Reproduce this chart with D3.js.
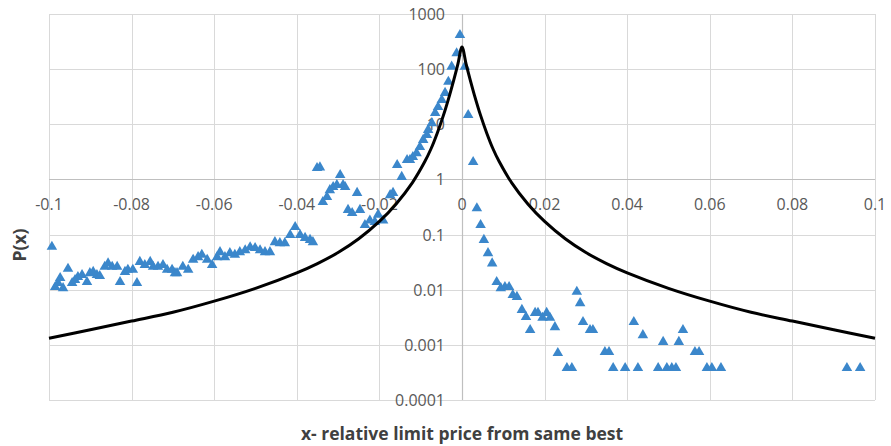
<!DOCTYPE html>
<html><head><meta charset="utf-8">
<script src="https://cdn.jsdelivr.net/npm/d3@7"></script>
<style>html,body{margin:0;padding:0;background:#fff;}svg{display:block;}</style>
</head><body>
<svg id="chart" width="891" height="446"></svg>
<script>
const xTicks = [-0.1,-0.08,-0.06,-0.04,-0.02,0,0.02,0.04,0.06,0.08,0.1];
const xTickLabels = ["-0.1","-0.08","-0.06","-0.04","-0.02","0","0.02","0.04","0.06","0.08","0.1"];
const yTicks = [0.0001,0.001,0.01,0.1,1,10,100,1000];
const yTickLabels = ["0.0001","0.001","0.01","0.1","1","10","100","1000"];
const xTitle = "x- relative limit price from same best";
const yTitle = "P(x)";

// empirical points (x, P(x))
const obsX = [
-0.0993,-0.0985,-0.0978,-0.0973,-0.0966,-0.0954,-0.0944,-0.0937,-0.0930,-0.0920,
-0.0908,-0.0901,-0.0893,-0.0884,-0.0877,-0.0865,-0.0857,-0.0847,-0.0835,-0.0828,
-0.0816,-0.0809,-0.0797,-0.0787,-0.0780,-0.0768,-0.0755,-0.0748,-0.0736,-0.0724,
-0.0714,-0.0702,-0.0695,-0.0690,-0.0676,-0.0663,-0.0651,-0.0639,-0.0630,-0.0617,
-0.0605,-0.0593,-0.0586,-0.0574,-0.0562,-0.0550,-0.0538,-0.0525,-0.0513,-0.0501,
-0.0489,-0.0477,-0.0465,-0.0453,-0.0441,-0.0429,-0.0416,-0.0404,-0.0392,-0.0380,
-0.0368,-0.0361,
-0.0351,-0.0344,-0.0337,-0.0327,-0.0320,-0.0312,-0.0303,-0.0295,-0.0288,-0.0283,
-0.0276,-0.0266,-0.0254,-0.0247,-0.0235,-0.0223,-0.0211,-0.0203,-0.0191,-0.0174,
-0.0167,-0.0157,-0.0146,-0.0133,
-0.0126,-0.0119,-0.0110,-0.0102,-0.0094,-0.0085,-0.0082,-0.0073,-0.0065,-0.0058,
-0.0049,-0.0041,-0.0033,-0.0025,-0.0013,-0.0005,0.0007,0.0015,0.0027,
0.0036,0.0045,0.0053,0.0063,0.0073,0.0084,0.0094,0.0104,0.0114,0.0123,
0.0133,0.0145,0.0155,0.0165,0.0177,0.0184,0.0195,0.0205,0.0213,0.0225,
0.0232,0.0254,0.0266,0.0278,0.0286,0.0293,0.0310,0.0317,0.0346,0.0356,
0.0366,0.0395,0.0416,0.0426,0.0438,0.0475,0.0487,0.0496,0.0508,0.0518,
0.0525,0.0535,0.0564,0.0574,0.0593,0.0605,0.0627,0.0932,0.0964
];
const obsP = [
0.060,0.0112,0.0132,0.0163,0.0107,0.024,0.0132,0.015,0.017,0.0185,
0.0138,0.020,0.021,0.0185,0.0177,0.026,0.030,0.026,0.026,0.0138,
0.021,0.023,0.023,0.0132,0.032,0.028,0.032,0.026,0.026,0.028,
0.023,0.023,0.020,0.020,0.026,0.023,0.035,0.039,0.043,0.035,
0.028,0.039,0.048,0.039,0.046,0.043,0.048,0.052,0.059,0.057,
0.052,0.048,0.048,0.073,0.070,0.070,0.098,0.137,0.098,0.087,
0.080,0.073,
1.61,1.65,0.39,0.48,0.64,0.73,0.79,1.20,0.79,0.73,
0.28,0.246,0.57,0.28,0.149,0.18,0.17,0.23,0.18,0.52,
0.57,1.83,1.11,2.25,
2.25,2.55,3.0,3.87,5.2,6.4,7.9,10.5,16,20.6,
27.5,37,59,111,194,416,111,14.7,2.07,
0.30,0.149,0.080,0.046,0.030,0.0138,0.0107,0.0112,0.0112,0.0080,
0.0074,0.0043,0.0032,0.00186,0.0038,0.0038,0.0031,0.0038,0.0031,0.0021,
0.00071,0.00038,0.00038,0.0092,0.0057,0.0026,0.00186,0.00186,0.00074,0.00074,
0.00038,0.00038,0.0026,0.00038,0.0015,0.00038,0.00113,0.00038,0.00038,0.00038,
0.00113,0.00186,0.00074,0.00074,0.00038,0.00038,0.00038,0.00038,0.00038
];

// fitted curve
const fitX = [-0.1,-0.09,-0.08,-0.07,-0.06,-0.05,-0.04,-0.035,-0.03,-0.025,-0.02,-0.016,-0.012,-0.009,-0.0075,-0.006,-0.0045,-0.003,-0.002,-0.001,0,
0.001,0.002,0.003,0.0045,0.006,0.0075,0.009,0.012,0.016,0.02,0.025,0.03,0.035,0.04,0.05,0.06,0.07,0.08,0.09,0.1];
const fitP = [0.00132,0.00188,0.0027,0.0039,0.0062,0.0106,0.0202,0.0298,0.0472,0.0839,0.173,0.356,0.877,2.11,3.6,6.9,14.5,33.9,63,123,251,
123,63,33.9,14.5,6.9,3.6,2.11,0.877,0.356,0.173,0.0839,0.0472,0.0298,0.0202,0.0106,0.0062,0.0039,0.0027,0.00188,0.00132];

const svg = d3.select("#chart");
const L = 49, R = 875, T = 14, B = 400;
const x = d3.scaleLinear().domain([-0.1, 0.1]).range([L, R]);
const y = d3.scaleLog().domain([0.0001, 1000]).range([B, T]);

const grid = svg.append("g");
grid.selectAll("line.v").data(xTicks).join("line")
  .attr("x1", d => Math.round(x(d)) + 0.5).attr("x2", d => Math.round(x(d)) + 0.5)
  .attr("y1", T).attr("y2", B).attr("stroke", "#d9d9d9").attr("stroke-width", 1);
grid.selectAll("line.h").data(yTicks).join("line")
  .attr("y1", d => Math.round(y(d)) + 0.5).attr("y2", d => Math.round(y(d)) + 0.5)
  .attr("x1", L).attr("x2", R).attr("stroke", "#d9d9d9").attr("stroke-width", 1);

// axis lines crossing at (0, 1)
svg.append("line").attr("x1", L).attr("x2", R)
  .attr("y1", Math.round(y(1)) + 0.5).attr("y2", Math.round(y(1)) + 0.5)
  .attr("stroke", "#bfbfbf").attr("stroke-width", 1.2);
svg.append("line").attr("y1", T).attr("y2", B)
  .attr("x1", Math.round(x(0)) + 0.5).attr("x2", Math.round(x(0)) + 0.5)
  .attr("stroke", "#bfbfbf").attr("stroke-width", 1.2);

const font = "'Open Sans', 'Noto Sans', sans-serif";
svg.append("g").selectAll("text").data(xTicks).join("text")
  .attr("x", d => x(d)).attr("y", y(1) + 25)
  .attr("text-anchor", "middle").attr("dominant-baseline", "central")
  .attr("font-family", font).attr("font-size", 16).attr("fill", "#595959")
  .text((d, i) => xTickLabels[i]);
svg.append("g").selectAll("text").data(yTicks).join("text")
  .attr("x", x(0) - 17).attr("y", d => y(d))
  .attr("text-anchor", "end").attr("dominant-baseline", "central")
  .attr("font-family", font).attr("font-size", 16).attr("fill", "#595959")
  .text((d, i) => yTickLabels[i]);

// points
const pts = obsX.map((v, i) => [v, obsP[i]]);
svg.append("g").selectAll("path").data(pts).join("path")
  .attr("transform", d => `translate(${x(d[0])},${y(d[1])})`)
  .attr("d", d3.symbol().type(d3.symbolTriangle).size(48))
  .attr("fill", "#3b87cb");

// curve
const fit = fitX.map((v, i) => [v, fitP[i]]);
svg.append("path").datum(fit)
  .attr("fill", "none").attr("stroke", "#000").attr("stroke-width", 3)
  .attr("stroke-linejoin", "round")
  .attr("d", d3.line().x(d => x(d[0])).y(d => y(d[1])).curve(d3.curveCatmullRom.alpha(0.5)));

// titles
svg.append("text").attr("x", x(0)).attr("y", 433)
  .attr("text-anchor", "middle").attr("dominant-baseline", "central")
  .attr("font-family", font).attr("font-weight", "bold").attr("font-size", 17.5).attr("fill", "#404040")
  .text(xTitle);
svg.append("text").attr("transform", "translate(19,245) rotate(-90)")
  .attr("text-anchor", "middle").attr("dominant-baseline", "central")
  .attr("font-family", font).attr("font-weight", "bold").attr("font-size", 17.5).attr("fill", "#404040")
  .text(yTitle);
</script>
</body></html>
